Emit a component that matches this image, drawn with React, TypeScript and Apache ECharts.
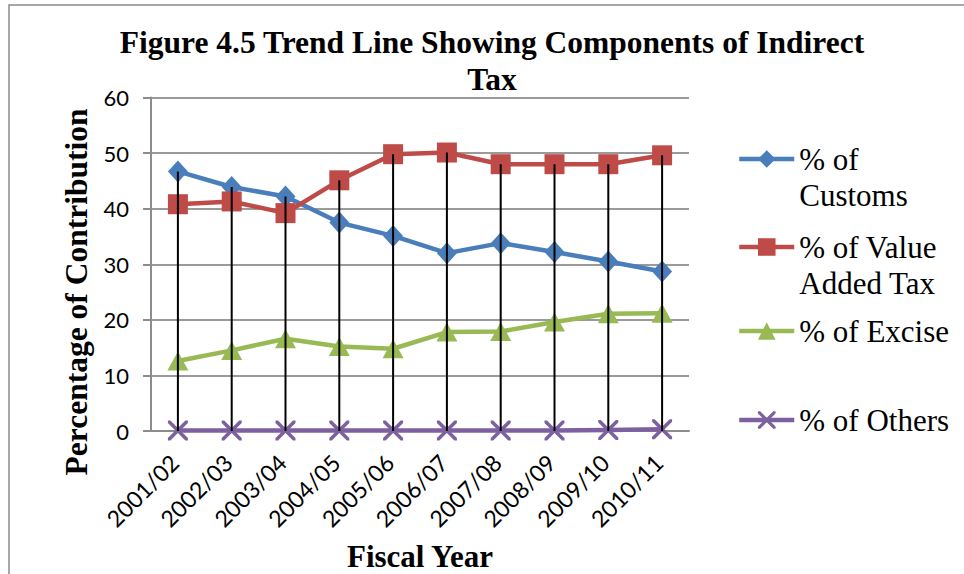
import React, { useEffect, useRef } from "react";
import * as echarts from "echarts";

const categories = ["2001/02", "2002/03", "2003/04", "2004/05", "2005/06", "2006/07", "2007/08", "2008/09", "2009/10", "2010/11"];
const customs = [46.7, 43.9, 42.2, 37.5, 35.1, 32.0, 33.8, 32.2, 30.5, 28.7];
const vat = [40.8, 41.3, 39.2, 45.1, 49.8, 50.1, 48.0, 48.0, 48.0, 49.6];
const excise = [12.6, 14.5, 16.6, 15.2, 14.8, 17.8, 17.9, 19.6, 21.1, 21.2];
const others = [0.1, 0.1, 0.1, 0.1, 0.1, 0.1, 0.1, 0.1, 0.2, 0.3];
const yTicks = [0, 10, 20, 30, 40, 50, 60];

const seriesNames = ["% of Customs", "% of Value Added Tax", "% of Excise", "% of Others"];
const legendLabels = ["\n% of\nCustoms", "\n% of Value\nAdded Tax", "% of Excise", "% of Others"];

const SERIF = "Liberation Serif";
const SANS = "Lato";
const X_PATH = "path://M0,0 L2.5,0 L10,7.5 L17.5,0 L20,0 L20,2.5 L12.5,10 L20,17.5 L20,20 L17.5,20 L10,12.5 L2.5,20 L0,20 L0,17.5 L7.5,10 L0,2.5 Z";

export default function App() {
  const ref = useRef<HTMLDivElement>(null);
  useEffect(() => {
    document.body.style.margin = "0";
    const chart = echarts.init(ref.current!, null, { renderer: "svg" });
    const dropTops = categories.map((_, i) => Math.max(customs[i], vat[i], excise[i], others[i]));
    const colors = ["#4A7EBB", "#BE4B48", "#98B954", "#7D60A0"];
    const symbols = ["diamond", "rect", "triangle", X_PATH];
    const sizes: any[] = [[20, 22], 20, [21, 19], 20];
    const datas = [customs, vat, excise, others];
    const legendTops = [100, 188, 308, 397];
    const legends = seriesNames.map((n, i) => ({
      data: [n],
      orient: "vertical",
      left: 732,
      top: legendTops[i],
      itemWidth: 55,
      itemHeight: 22,
      selectedMode: false,
      lineStyle: { width: 4.5 },
      formatter: () => legendLabels[i],
      textStyle: {
        fontFamily: SERIF,
        fontSize: 31,
        color: "#000",
        lineHeight: 36,
      },
    }));
    const option: any = {
      animation: false,
      backgroundColor: "#fff",
      legend: legends,
      grid: { left: 151, right: 275, top: 97.5, bottom: 143, outerBoundsMode: "none", containLabel: false },
      xAxis: {
        type: "category",
        data: categories,
        boundaryGap: true,
        axisLine: { show: true, lineStyle: { color: "#8c8c8c", width: 2 } },
        axisTick: { show: false },
        axisLabel: {
          rotate: 45,
          fontFamily: SANS,
          fontSize: 23,
          color: "#000",
          margin: 24,
          padding: [0, 5, 0, 0],
          interval: 0,
        },
        splitLine: { show: false },
      },
      yAxis: {
        type: "value",
        min: 0,
        max: 60,
        interval: 10,
        axisLine: { show: true, lineStyle: { color: "#8c8c8c", width: 2 } },
        axisTick: { show: true, length: 8, lineStyle: { color: "#8c8c8c", width: 2 } },
        axisLabel: {
          fontFamily: SANS,
          fontSize: 22,
          color: "#000",
          margin: 22,
          formatter: (v: number) => (yTicks.includes(v) ? String(v) : ""),
        },
        splitLine: { show: true, lineStyle: { color: "#9a9a9a", width: 2 } },
      },
      graphic: [
        {
          type: "rect",
          shape: { x: 9, y: 5, width: 1200, height: 1200 },
          style: { fill: "none", stroke: "#8a8a8a", lineWidth: 1.5 },
          silent: true,
        },
        {
          type: "text",
          x: 492,
          y: 24,
          style: {
            text: "Figure 4.5 Trend Line Showing Components of Indirect\nTax",
            font: `bold 31.5px "${SERIF}"`,
            fill: "#000",
            align: "center",
            verticalAlign: "top",
            lineHeight: 37,
          },
        },
        {
          type: "text",
          x: 76,
          y: 292,
          rotation: Math.PI / 2,
          style: {
            text: "Percentage of Contribution",
            font: `bold 31.5px "${SERIF}"`,
            fill: "#000",
            align: "center",
            verticalAlign: "middle",
          },
        },
        {
          type: "text",
          x: 420,
          y: 556,
          style: {
            text: "Fiscal Year",
            font: `bold 31px "${SERIF}"`,
            fill: "#000",
            align: "center",
            verticalAlign: "middle",
          },
        },
      ],
      series: [
        ...seriesNames.map((n, i) => ({
          name: n,
          type: "line",
          data: datas[i],
          symbol: symbols[i],
          symbolSize: sizes[i],
          showAllSymbol: true,
          lineStyle: { color: colors[i], width: 4.5 },
          itemStyle: { color: colors[i] },
          z: 2,
        })),
        {
          name: "drop",
          type: "bar",
          data: dropTops,
          barWidth: 2,
          itemStyle: { color: "#000" },
          z: 4,
          silent: true,
        },
      ],
    };
    chart.setOption(option);
    return () => chart.dispose();
  }, []);
  return <div ref={ref} style={{ width: 964, height: 574 }} />;
}
